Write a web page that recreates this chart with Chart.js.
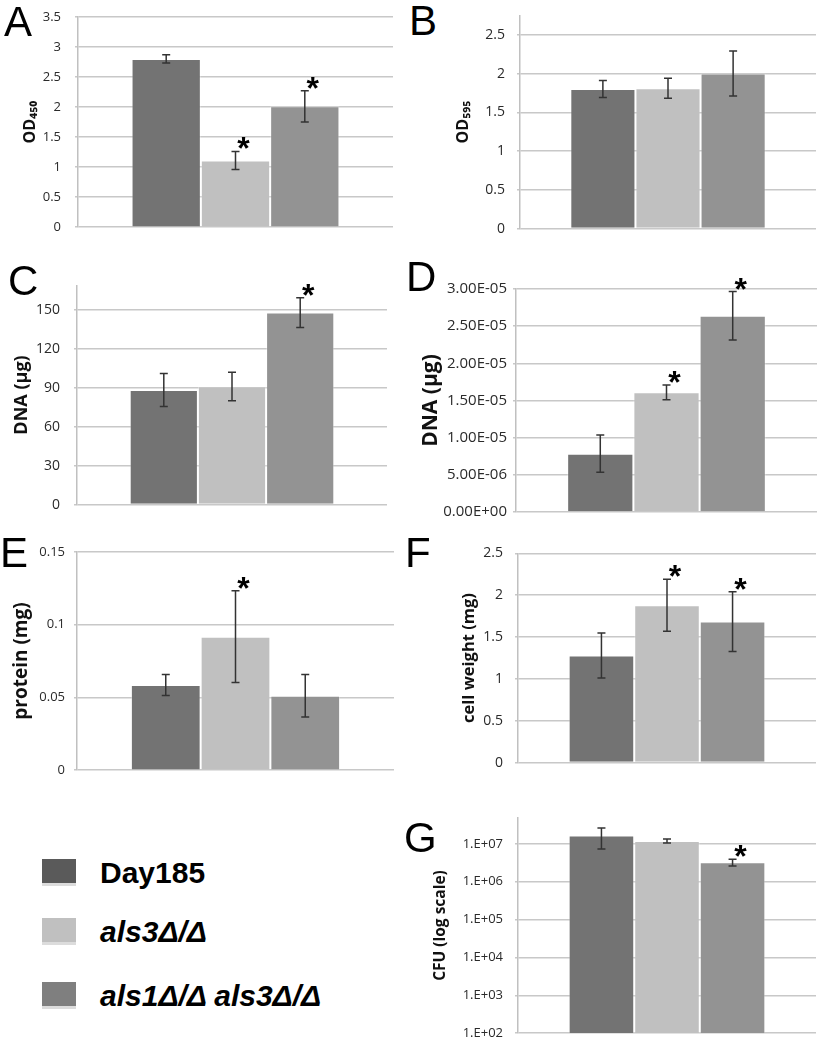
<!DOCTYPE html>
<html>
<head>
<meta charset="utf-8">
<script src="https://cdn.jsdelivr.net/npm/chart.js@4.4.1/dist/chart.umd.min.js"></script>
<style>
  body { margin: 0; background: #fff; }
  #page { position: relative; width: 823px; height: 1050px; overflow: hidden; background: #fff; }
  canvas { position: absolute; }
  .letter { position: absolute; font: 42px 'Liberation Sans', Arial, sans-serif; line-height: 42px; color: #000; }
  .key { position: absolute; left: 42px; width: 34px; height: 24px; border-bottom: 3px solid #dcdcdc; }
  .keytext { position: absolute; left: 100px; font: bold 30px 'Liberation Sans', Arial, sans-serif; line-height: 30px; color: #000; white-space: nowrap; }
  .it { font-style: italic; }
</style>
</head>
<body>
<div id="page"></div>
<script>
const strains = ['Day185', 'als3Δ/Δ', 'als1Δ/Δ als3Δ/Δ'];

// A: biofilm metabolic activity
const od450 = [2.80, 1.11, 2.01];
const od450Err = [0.07, 0.15, 0.26];
const od450Sig = [false, true, true];

// B: crystal violet
const od595 = [1.80, 1.81, 2.00];
const od595Err = [0.11, 0.13, 0.29];
const od595Sig = [false, false, false];

// C: total DNA
const dnaTotal = [88.2, 90.8, 147.7];
const dnaTotalErr = [12.7, 11.0, 11.4];
const dnaTotalSig = [false, false, true];

// D: DNA per cell
const dnaPerCell = [7.85e-6, 1.61e-5, 2.64e-5];
const dnaPerCellErr = [2.5e-6, 1.0e-6, 3.25e-6];
const dnaPerCellSig = [false, true, true];

// E: protein
const protein = [0.0585, 0.0917, 0.0512];
const proteinErr = [0.0072, 0.0315, 0.0146];
const proteinSig = [false, true, false];

// F: cell weight
const cellWeight = [1.28, 1.88, 1.685];
const cellWeightErr = [0.27, 0.31, 0.357];
const cellWeightSig = [false, true, true];

// G: CFU
const cfu = [1.68e7, 1.2e7, 3.28e6];
const cfuErr = [0.95e7, 0.15e7, 0.68e6];
const cfuSig = [false, false, true];

const barColors = ['#737373', '#c0c0c0', '#939393'];
const keyColors = ['#5a5a5a', '#c0c0c0', '#7f7f7f'];

function plain(v) { return String(+v.toFixed(6)); }
function sci(v) {
  if (v === 0) return '0.00E+00';
  const e = Math.floor(Math.log10(Math.abs(v)) + 1e-9);
  const m = v / Math.pow(10, e);
  return m.toFixed(2) + 'E' + (e < 0 ? '-' : '+') + String(Math.abs(e)).padStart(2, '0');
}
function logLabel(v) {
  const e = Math.round(Math.log10(v));
  return '1.E+' + String(e).padStart(2, '0');
}

// rect = plot area [left, top, right, bottom] on the page
const panels = [
  { letter: 'A', pos: [4, 1], vals: od450, err: od450Err, sig: od450Sig, title: 'OD₄₅₀', max: 3.5, step: 0.5,
    rect: [78, 5, 393, 239], titleX: 31, titleSize: 16, tickSize: 13, tickPad: 14, fmt: plain },
  { letter: 'B', pos: [409, 0], vals: od595, err: od595Err, sig: od595Sig, title: 'OD₅₉₅', max: 2.75, step: 0.5,
    rect: [520, 5, 816, 239], titleX: 464, titleSize: 16, tickSize: 14, tickPad: 12, fmt: plain },
  { letter: 'C', pos: [8, 260], vals: dnaTotal, err: dnaTotalErr, sig: dnaTotalSig, title: 'DNA (µg)', max: 168.6, step: 30,
    rect: [77, 273, 387, 517], titleX: 22, titleSize: 18, tickSize: 14, tickPad: 14, fmt: plain },
  { letter: 'D', pos: [406, 256], vals: dnaPerCell, err: dnaPerCellErr, sig: dnaPerCellSig, title: 'DNA (µg)', max: 3e-5, step: 5e-6,
    rect: [516, 284, 817, 517], titleX: 431, titleSize: 21, tickSize: 15, tickPad: 6, fmt: sci },
  { letter: 'E', pos: [0, 532], vals: protein, err: proteinErr, sig: proteinSig, title: 'protein (mg)', max: 0.15, step: 0.05,
    rect: [77, 545, 394, 777], titleX: 21, titleSize: 19, tickSize: 13, tickPad: 9, fmt: plain },
  { letter: 'F', pos: [405, 532], vals: cellWeight, err: cellWeightErr, sig: cellWeightSig, title: 'cell weight (mg)', max: 2.5, step: 0.5,
    rect: [518, 543, 816, 773], titleX: 469, titleSize: 16.5, tickSize: 14, tickPad: 12, fmt: plain },
  { letter: 'G', pos: [404, 817], vals: cfu, err: cfuErr, sig: cfuSig, title: 'CFU (log scale)', log: true, min: 100, max: 4.9e7,
    rect: [518, 808, 816, 1043], titleX: 440, titleSize: 15.5, tickSize: 13, tickPad: 12, fmt: logLabel }
];

const errorBars = {
  id: 'errorBars',
  afterDatasetsDraw(chart) {
    const ctx = chart.ctx;
    const y = chart.scales.y;
    ctx.save();
    chart.data.datasets.forEach((ds, i) => {
      const bar = chart.getDatasetMeta(i).data[0];
      const v = ds.data[0];
      const hi = y.getPixelForValue(v + ds.err);
      const lo = y.getPixelForValue(Math.max(v - ds.err, y.min));
      const x = bar.x;
      ctx.strokeStyle = '#333';
      ctx.lineWidth = 1.5;
      ctx.beginPath();
      ctx.moveTo(x, hi); ctx.lineTo(x, lo);
      ctx.moveTo(x - 4, hi); ctx.lineTo(x + 4, hi);
      ctx.moveTo(x - 4, lo); ctx.lineTo(x + 4, lo);
      ctx.stroke();
      if (ds.sig) {
        ctx.fillStyle = '#000';
        ctx.font = 'bold 32px "Liberation Sans", Arial, sans-serif';
        ctx.textAlign = 'center';
        ctx.textBaseline = 'alphabetic';
        ctx.fillText('*', x + 8, hi + 8);
      }
    });
    ctx.restore();
  }
};

const page = document.getElementById('page');

panels.forEach(p => {
  const [L, T, R, B] = p.rect;
  const titlePad = 4;
  const left = Math.round(p.titleX - titlePad - p.titleSize * 0.6);
  const top = T - 10;
  const width = R - left + 2;
  const height = B - T + 20;
  const yWidth = L - left;

  const cv = document.createElement('canvas');
  cv.width = width; cv.height = height;
  cv.style.left = left + 'px'; cv.style.top = top + 'px';
  cv.style.width = width + 'px'; cv.style.height = height + 'px';
  page.appendChild(cv);

  const lt = document.createElement('div');
  lt.className = 'letter';
  lt.textContent = p.letter;
  lt.style.left = p.pos[0] + 'px'; lt.style.top = p.pos[1] + 'px';
  page.appendChild(lt);

  const datasets = strains.map((s, i) => ({
    label: s,
    data: [p.vals[i]],
    err: p.err[i],
    sig: p.sig[i],
    backgroundColor: barColors[i],
    borderColor: 'rgba(255,255,255,0.35)',
    borderWidth: 1
  }));

  const yScale = {
    type: p.log ? 'logarithmic' : 'linear',
    min: p.log ? p.min : 0,
    max: p.max,
    ticks: {
      font: { family: 'Open Sans', size: p.tickSize },
      color: '#2a2a2a',
      padding: p.tickPad,
      callback: v => p.fmt(v)
    },
    grid: { color: '#c8c8c8', lineWidth: 1.5, drawTicks: true, tickLength: 3, tickColor: '#c8c8c8' },
    border: { display: true, color: '#c0c0c0', width: 1.5 },
    title: {
      display: true, text: p.title, color: '#111',
      font: { family: 'Open Sans', weight: 'bold', size: p.titleSize },
      padding: { top: titlePad, bottom: 0 }
    },
    afterFit(s) { s.width = yWidth; },
    afterBuildTicks(s) {
      if (p.log) {
        s.ticks = s.ticks.filter(t => Math.abs(Math.log10(t.value) - Math.round(Math.log10(t.value))) < 1e-6);
      } else {
        s.ticks = s.ticks.filter(t => Math.abs(t.value / p.step - Math.round(t.value / p.step)) < 1e-6);
      }
    }
  };
  if (!p.log) yScale.ticks.stepSize = p.step;

  new Chart(cv.getContext('2d'), {
    type: 'bar',
    data: { labels: [''], datasets: datasets },
    options: {
      responsive: false,
      animation: false,
      layout: { padding: { top: 10, bottom: 10, left: 0, right: 2 } },
      datasets: { bar: { categoryPercentage: 0.66, barPercentage: 1 } },
      plugins: { legend: { display: false }, tooltip: { enabled: false } },
      scales: { x: { display: false }, y: yScale }
    },
    plugins: [errorBars]
  });
});

// legend
const keyTops = [859, 918, 982];
strains.forEach((s, i) => {
  const k = document.createElement('div');
  k.className = 'key';
  k.style.top = keyTops[i] + 'px';
  k.style.background = keyColors[i];
  page.appendChild(k);
  const t = document.createElement('div');
  t.className = 'keytext' + (i > 0 ? ' it' : '');
  t.style.top = (keyTops[i] - 1) + 'px';
  t.textContent = s;
  page.appendChild(t);
});
</script>
</body>
</html>
